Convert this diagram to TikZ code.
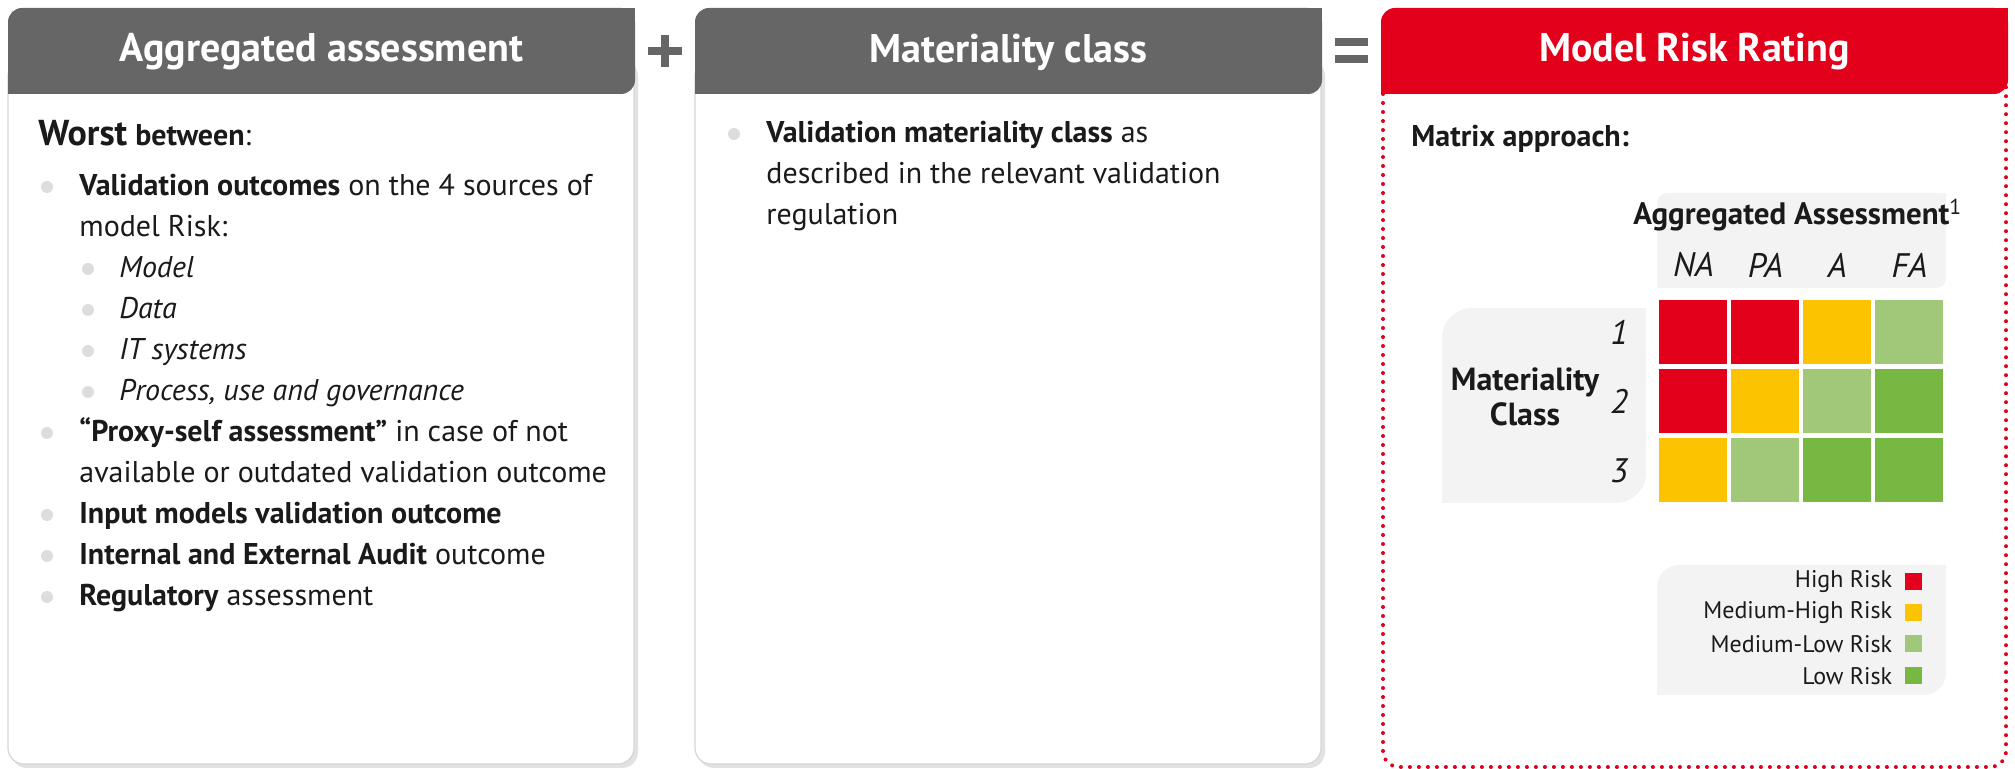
\documentclass[tikz,border=0pt]{standalone}
\usepackage{fontspec}
\setmainfont{PT Sans}
\usepackage{xcolor}
\usepackage{tikz}
\usetikzlibrary{matrix}
\usetikzlibrary{positioning}

\definecolor{kopfgrau}{HTML}{666666}
\definecolor{risikorot}{HTML}{E2001A}
\definecolor{risikogelb}{HTML}{FCC300}
\definecolor{hellgruen}{HTML}{A0C878}
\definecolor{gruen}{HTML}{77B843}
\definecolor{boxgrau}{HTML}{F3F3F3}
\definecolor{punktgrau}{HTML}{DDDDDD}
\definecolor{randgrau}{HTML}{D6D6D6}
\definecolor{schattengrau}{HTML}{E2E2E2}
\definecolor{textschwarz}{HTML}{1A1A1A}

% Kasten: oben links und unten rechts gerundet
\newcommand\Kasten[6][7pt]{%
  \fill[fill=#2, rounded corners=#1] (#3,#4) rectangle (#5,#6);
  \fill[fill=#2] (#5-40,#4) rectangle (#5,#4+40);
  \fill[fill=#2] (#3,#6-40) rectangle (#3+40,#6);
}

\tikzset{
  Kopf/.style={text=white, font=\fontsize{20}{24}\selectfont\bfseries}, % Ueberschriften
  Aufz/.style={anchor=base west, inner sep=0pt, text=textschwarz, font=\fontsize{15}{20.5}\selectfont}, % Aufzaehlung
  Unter/.style={Aufz, font=\fontsize{15}{20.5}\selectfont\itshape},
  Punkt/.style={circle, fill=punktgrau, minimum size=6pt, inner sep=0pt},
  Zelle/.style={minimum width=34pt, minimum height=32pt, inner sep=0pt},
  Spalte/.style={text=textschwarz, font=\fontsize{17}{19}\selectfont\itshape},
  LegText/.style={inner sep=0pt, text=textschwarz, font=\fontsize{12}{14}\selectfont},
  LegFeld/.style={minimum size=8.5pt, inner sep=0pt},
  Zeichen/.style={draw=kopfgrau, line width=4pt},
  Rand/.style={draw=risikorot, line width=2pt, dash pattern=on 0pt off 4.5pt, line cap=round, rounded corners=8pt}
}

\begin{document}
\begin{tikzpicture}[x=0.5pt, y=-0.5pt]
\useasboundingbox (0,0) rectangle (2015,769);

%Felder
\foreach \x in {8,695}{
  \fill[fill=schattengrau, rounded corners=8pt] (\x+3,60) rectangle (\x+630,768);
  \filldraw[fill=white, draw=randgrau, line width=0.6pt, rounded corners=8pt] (\x,60) rectangle (\x+626,764);
}
\draw[Rand] (1383,60) rectangle (2006,767);

%Kopfzeilen
\foreach \x/\farbe/\name/\titel in {8/kopfgrau/k1/Aggregated assessment, 695/kopfgrau/k2/Materiality class, 1381/risikorot/k3/Model Risk Rating}{
  \Kasten{\farbe}{\x}{8}{\x+627}{94}
  \node[Kopf] (\name) at (\x+313.5,52) {\titel};
}

%Plus und Gleich
\draw[Zeichen] (648,51) -- (682,51) (665,35) -- (665,67);
\draw[Zeichen] (1335,42) -- (1368,42) (1335,59) -- (1368,59);

%Aggregated assessment
\node[Aufz] (worst) at (38,146) {{\fontsize{18}{20}\selectfont\bfseries Worst} \textbf{between}:};
\node[Punkt] (p1) at (47,187) {};
\node[Aufz] (a1) at (79,196) {\textbf{Validation outcomes} on the 4 sources of};
\node[Aufz] (a1b) at (79,237) {model Risk:};
\foreach \y/\name/\wort in {278/m/Model, 319/d/Data, 360/i/IT systems, 401/g/{Process, use and governance}}{
  \node[Punkt] (p\name) at (88,\y-9) {};
  \node[Unter] (u\name) at (119,\y) {\wort};
}
\node[Punkt] (p2) at (47,433) {};
\node[Aufz] (a2) at (79,442) {\textbf{“Proxy-self assessment”} in case of not};
\node[Aufz] (a2b) at (79,483) {available or outdated validation outcome};
\node[Punkt] (p3) at (47,515) {};
\node[Aufz] (a3) at (79,524) {\textbf{Input models validation outcome}};
\node[Punkt] (p4) at (47,556) {};
\node[Aufz] (a4) at (79,565) {\textbf{Internal and External Audit} outcome};
\node[Punkt] (p5) at (47,597) {};
\node[Aufz] (a5) at (79,606) {\textbf{Regulatory} assessment};

%Materiality class
\node[Punkt] (q1) at (734,134) {};
\node[Aufz] (b1) at (766,143) {\textbf{Validation materiality class} as};
\node[Aufz] (b1b) at (766,184) {described in the relevant validation};
\node[Aufz] (b1c) at (766,225) {regulation};

%Model Risk Rating
\node[Aufz] (ansatz) at (1411,147) {\textbf{Matrix approach:}};
\Kasten[5pt]{boxgrau}{1657}{193}{1946}{288}
\Kasten[15pt]{boxgrau}{1442}{308}{1646}{503}
\Kasten[11pt]{boxgrau}{1657}{565}{1946}{695}
\node[Aufz, font=\fontsize{15.5}{17}\selectfont] (aa) at (1633,225) {\textbf{Aggregated Assessment}\textsuperscript{1}};

\matrix (M) [matrix of nodes, nodes in empty cells, anchor=north west,
  inner sep=0pt, column sep=2pt, row sep=2.5pt, nodes={Zelle}] at (1659,300)
{
  |[fill=risikorot]|  & |[fill=risikorot]|  & |[fill=risikogelb]| & |[fill=hellgruen]| \\
  |[fill=risikorot]|  & |[fill=risikogelb]| & |[fill=hellgruen]|  & |[fill=gruen]|     \\
  |[fill=risikogelb]| & |[fill=hellgruen]|  & |[fill=gruen]|      & |[fill=gruen]|     \\
};

\foreach \s/\lab in {1/NA, 2/PA, 3/A, 4/FA}
  \node[Spalte] (s\s) at (M-1-\s |- 0,265) {\lab};
\foreach \r in {1,2,3}
  \node[Spalte, left=12pt of M-\r-1] (r\r) {\r};
\node[Spalte, font=\fontsize{16}{17.5}\selectfont\bfseries, align=center] (mk) at (1525,397) {Materiality\\Class};

%Legende
\foreach \i/\farbe/\lab/\yy in {1/risikorot/High Risk/582, 2/risikogelb/Medium-High Risk/613, 3/hellgruen/Medium-Low Risk/644, 4/gruen/Low Risk/676}{
  \node[LegFeld, fill=\farbe] (l\i) at (1913.5,\yy) {};
  \node[LegText, left=6pt of l\i] (lt\i) {\lab};
}
\end{tikzpicture}
\end{document}
